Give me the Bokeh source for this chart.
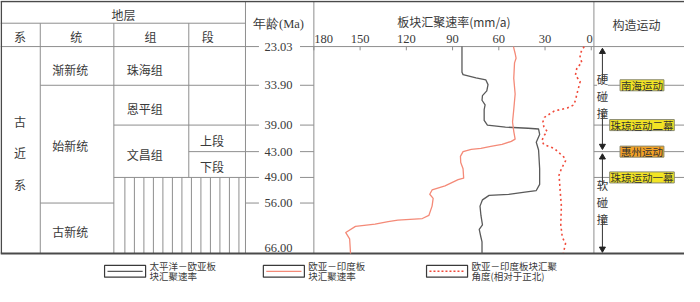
import numpy as np
from bokeh.plotting import figure
from bokeh.models import Range1d
from bokeh.core.properties import value
from bokeh.embed import file_html
from bokeh.resources import INLINE

# ---------------- data ----------------
age_ticks = [23.03, 33.90, 39.00, 43.00, 49.00, 56.00, 66.00]
age_labels = ["23.03", "33.90", "39.00", "43.00", "49.00", "56.00", "66.00"]
rate_ticks = [180, 150, 120, 90, 60, 30, 0]

# 太平洋-欧亚板块汇聚速率 (mm/a)
pac_age = [23.03, 30.22, 30.91, 31.80, 32.40, 33.72, 34.62, 35.22, 35.82, 36.41, 37.01,
           38.40, 39.00, 39.31, 39.48, 39.59, 40.41, 41.59, 42.76, 46.98, 50.89, 52.58,
           53.01, 53.65, 53.90, 55.13, 56.61, 58.46, 60.31, 61.24, 62.78, 63.70, 66.00]
pac_rate = [83.9, 83.9, 83.2, 74.8, 68.4, 67.0, 67.8, 70.6, 70.9, 68.9, 69.5,
            69.5, 67.4, 55.7, 41.0, 34.2, 33.5, 35.7, 34.2, 33.5, 33.5, 35.7,
            43.1, 53.6, 66.3, 70.6, 72.2, 71.6, 70.6, 72.7, 71.6, 70.9, 70.9]

# 欧亚-印度板块汇聚速率 (mm/a)
ind_age = [23.03, 24.97, 26.29, 27.60, 31.96, 35.01, 37.01, 38.60, 39.94, 41.11, 41.45,
           41.92, 42.20, 42.52, 42.66, 43.00, 44.09, 45.52, 46.98, 49.18, 49.61, 51.30,
           52.42, 53.60, 54.72, 56.61, 58.46, 59.07, 59.39, 59.70, 60.19, 60.63, 61.85,
           63.09, 66.00]
ind_rate = [50.5, 49.4, 48.8, 49.8, 50.3, 49.4, 50.3, 51.1, 50.3, 49.4, 51.9,
            57.9, 65.2, 71.6, 77.9, 83.2, 84.9, 84.7, 83.2, 82.8, 86.4, 94.9,
            103.3, 104.8, 102.6, 103.3, 105.4, 109.6, 125.5, 131.8, 140.3, 153.0, 159.3,
            156.8, 156.2]

# 欧亚-印度板块汇聚角度 (相对于正北)
ang_age = [23.03, 24.08, 25.39, 26.71, 27.60, 28.91, 31.09, 32.85, 34.62, 35.82, 36.41,
           36.81, 37.20, 38.01, 38.60, 39.24, 39.94, 40.51, 41.35, 41.92, 42.52, 44.43,
           45.17, 46.98, 48.43, 52.58, 56.61, 60.31, 62.78, 64.02, 65.87]
ang_val = [4.6, 6.1, 7.5, 6.7, 6.1, 9.3, 10.3, 7.2, 8.8, 10.3, 11.3,
           15.6, 24.0, 30.4, 31.4, 30.8, 28.7, 30.4, 32.1, 30.8, 24.0, 17.3,
           16.7, 19.4, 20.9, 20.2, 19.4, 19.8, 18.8, 16.7, 18.1]

system_name = "古\n近\n系"
series_names = ["渐新统", "始新统", "古新统"]
formation_names = ["珠海组", "恩平组", "文昌组"]
member_names = ["上段", "下段"]
member_ages = [(39.00, 43.00), (43.00, 49.00)]
event_names = ["南海运动", "珠琼运动二幕", "惠州运动", "珠琼运动一幕"]
event_ages = [33.90, 39.00, 43.00, 49.00]
collision_names = ["硬\n碰\n撞", "软\n碰\n撞"]
legend_lines = [["太平洋－欧亚板", "块汇聚速率"],
                ["欧亚－印度板", "块汇聚速率"],
                ["欧亚－印度板块汇聚", "角度(相对于正北)"]]

# ---------------- layout (reference pixel units) ----------------
LAYOUT_Y = [49.3, 90.7, 133.3, 161.7, 189.3, 216.7, 270.7]


def ymap(a):
    return np.interp(np.asarray(a, dtype=float), age_ticks, LAYOUT_Y)


CJK = value("Noto Sans CJK SC")
SERIF = value("Liberation Serif")
TXT = "#3a3a3a"
GRID = "#8e8e8e"
DARK = "#4a4a4a"

XC = [0.8, 40.7, 116.0, 192.7, 250.7, 320.7, 607.3]  # column borders
TOP, HDR, BOT = 1.0, 24.3, 270.7
X0, X180 = 604.6, 320.7
kpx = (X0 - X180) / 180.0

p = figure(width=684, height=286, x_range=Range1d(0, 700), y_range=Range1d(306, 0),
           output_backend="svg", toolbar_location=None, min_border=0,
           x_axis_location=None, y_axis_location=None, outline_line_color=None,
           background_fill_color="white", border_fill_color="white")
p.grid.visible = False
p.extra_x_ranges = {"rate": Range1d(start=X0 / kpx, end=(X0 - 700) / kpx)}

# ---- table lines ----
seg = dict(x0=[], y0=[], x1=[], y1=[])


def add(x0, y0, x1, y1):
    seg["x0"].append(x0); seg["y0"].append(y0); seg["x1"].append(x1); seg["y1"].append(y1)


y_top = float(ymap(age_ticks[0]))
add(0, HDR, XC[4], HDR)
add(0, y_top, 264.5, y_top)
add(306.5, y_top, 700, y_top)
for a, x_start in [(33.90, XC[1]), (39.00, XC[2]), (43.00, XC[3]), (49.00, XC[2]), (56.00, XC[1])]:
    yy = float(ymap(a))
    x_end = XC[2] if a == 56.00 else XC[4]
    add(x_start, yy, x_end, yy)
    add(XC[4], yy, 264.5, yy)
    add(306.5, yy, XC[5], yy)
for xx in [XC[1], XC[2]]:
    add(xx, HDR, xx, BOT)
add(XC[3], HDR, XC[3], float(ymap(49.00)))
for xx in [XC[4], XC[5], XC[6]]:
    add(xx, TOP, xx, BOT)
# hatched (missing strata) area
for xx in np.linspace(127.3, 244.0, 13):
    add(float(xx), float(ymap(49.00)), float(xx), BOT)
# tectonic event lines
for a in event_ages:
    add(XC[6], float(ymap(a)), 700, float(ymap(a)))
p.segment(**seg, line_color=GRID, line_width=1)

# outer frame
p.segment(x0=[0, 0, XC[0]], y0=[TOP, BOT, TOP], x1=[700, 700, XC[0]], y1=[TOP, BOT, BOT],
          line_color=DARK, line_width=[1.5, 2, 1.5])

# ---- header text ----
p.text(x=[(XC[0] + XC[4]) / 2], y=[15], text=["地层"], text_font=CJK, text_font_size="12px",
       text_align="center", text_baseline="middle", text_color=TXT)
p.text(x=[20, 77.5, 153.5, 212], y=[38.5, 38.5, 38.5, 38.5], text=["系", "统", "组", "段"],
       text_font=CJK, text_font_size="12px", text_align="center", text_baseline="middle",
       text_color=TXT)
p.text(x=[284.5], y=[25], text=["年龄(Ma)"], text_font=SERIF, text_font_size="12.5px",
       text_align="center", text_baseline="middle", text_color=TXT)
p.text(x=[464], y=[22.5], text=["板块汇聚速率(mm/a)"], text_font=CJK, text_font_size="12px",
       text_align="center", text_baseline="middle", text_color=TXT)
p.text(x=[651], y=[25.5], text=["构造运动"], text_font=CJK, text_font_size="12px",
       text_align="center", text_baseline="middle", text_color=TXT)

# ---- strata names ----
p.text(x=[20], y=[163], text=[system_name], text_font=CJK, text_font_size="12px",
       text_align="center", text_baseline="middle", text_color=TXT, text_line_height=1.85)
p.text(x=[71.5] * 3,
       y=[float(ymap(23.03)) + 24, float(ymap(33.90)) + 64, float(ymap(56.00)) + 30],
       text=series_names, text_font=CJK, text_font_size="12px", text_align="center",
       text_baseline="middle", text_color=TXT)
p.text(x=[147.5] * 3,
       y=[float(ymap(23.03)) + 24, float(ymap(33.90)) + 25, float(ymap(39.00)) + 32],
       text=formation_names, text_font=CJK, text_font_size="12px", text_align="center",
       text_baseline="middle", text_color=TXT)
p.text(x=[216.5] * 2, y=[(ymap(a) + ymap(b)) / 2 + 2 for a, b in member_ages],
       text=member_names, text_font=CJK, text_font_size="12px", text_align="center",
       text_baseline="middle", text_color=TXT)

# ---- age labels ----
lab_y = list(ymap(age_ticks))
lab_y[-1] = lab_y[-1] - 6
p.text(x=[284.5] * len(age_labels), y=lab_y, text=age_labels, text_font=SERIF,
       text_font_size="12.5px", text_align="center", text_baseline="middle", text_color=TXT)

# ---- rate axis (top) ----
p.segment(x0=rate_ticks, x1=rate_ticks, y0=[y_top] * 7, y1=[y_top + 4] * 7,
          line_color=GRID, line_width=1, x_range_name="rate")
p.text(x=rate_ticks[1:-1], y=[41.5] * 5, text=[str(t) for t in rate_ticks[1:-1]],
       text_font=SERIF, text_font_size="12.5px", text_align="center", text_baseline="middle",
       text_color=TXT, x_range_name="rate")
p.text(x=[rate_ticks[0]], y=[41.5], text=[str(rate_ticks[0])], text_font=SERIF,
       text_font_size="12.5px", text_align="left", text_baseline="middle", text_color=TXT,
       x_range_name="rate", x_offset=0.5)
p.text(x=[rate_ticks[-1]], y=[41.5], text=[str(rate_ticks[-1])], text_font=SERIF,
       text_font_size="12.5px", text_align="right", text_baseline="middle", text_color=TXT,
       x_range_name="rate", x_offset=1.5)

# ---- curves ----
PAC_C, IND_C, ANG_C = "#5a5a5a", "#f48a78", "#f04a3a"
p.line(x=pac_rate, y=ymap(pac_age), line_color=PAC_C, line_width=1.3, x_range_name="rate",
       line_join="round")
p.line(x=ind_rate, y=ymap(ind_age), line_color=IND_C, line_width=1.3, x_range_name="rate",
       line_join="round")
p.line(x=ang_val, y=ymap(ang_age), line_color=ANG_C, line_width=1.6, line_dash="2 3",
       x_range_name="rate")

# ---- tectonic column ----
AX = 616.0
y43 = float(ymap(43.00))
p.segment(x0=[AX, AX], x1=[AX, AX], y0=[y_top + 4, y43 + 4.5], y1=[y43 - 5, BOT - 4],
          line_color="#333333", line_width=1)
p.scatter(x=[AX, AX], y=[y_top + 5.5, y43 + 6], marker="triangle", size=6,
          color="#222222")
p.scatter(x=[AX, AX], y=[y43 - 6, BOT - 5], marker="inverted_triangle", size=6,
          color="#222222")
p.quad(left=[AX - 5.5] * 2, right=[AX + 5.5] * 2, top=[85, 197.5], bottom=[120, 234],
       fill_color="white", line_color=None)
p.text(x=[AX, AX], y=[102.5, 216], text=collision_names, text_font=CJK,
       text_font_size="11.5px", text_align="center", text_baseline="middle",
       text_color=TXT, text_line_height=1.07)

ev_w = [len(n) * 10.6 + 2.5 for n in event_names]
ev_c = ["#f2e424", "#f2e424", "#f4a226", "#f2e424"]
p.rect(x=[656.5] * 4, y=ymap(event_ages), width=ev_w, height=11.8, fill_color=ev_c,
       line_color="#8a8a70", line_width=1)
p.text(x=[656.5] * 4, y=ymap(event_ages), text=event_names, text_font=CJK,
       text_font_size="10.5px", text_align="center", text_baseline="middle",
       text_color="#333333")

# ---- legend ----
LBX = [106.5, 269.0, 436.0]
LBW = 42.0
p.quad(left=LBX, right=[x + LBW for x in LBX], top=[283.5] * 3, bottom=[296] * 3,
       fill_color="white", line_color="#3a3a3a", line_width=1.2)
p.segment(x0=[LBX[0] + 3], x1=[LBX[0] + LBW - 3], y0=[289.8], y1=[289.8],
          line_color=PAC_C, line_width=1.3)
p.segment(x0=[LBX[1] + 3], x1=[LBX[1] + LBW - 3], y0=[289.8], y1=[289.8],
          line_color=IND_C, line_width=1.3)
p.segment(x0=[LBX[2] + 3], x1=[LBX[2] + LBW - 3], y0=[289.8], y1=[289.8],
          line_color=ANG_C, line_width=1.5, line_dash="2 2")
for i, lines in enumerate(legend_lines):
    p.text(x=[LBX[i] + LBW + 4] * 2, y=[284.5, 295.0], text=lines, text_font=CJK,
           text_font_size="9.5px", text_align="left", text_baseline="middle",
           text_color=TXT)

open("out.html", "w").write(file_html(p, INLINE))
